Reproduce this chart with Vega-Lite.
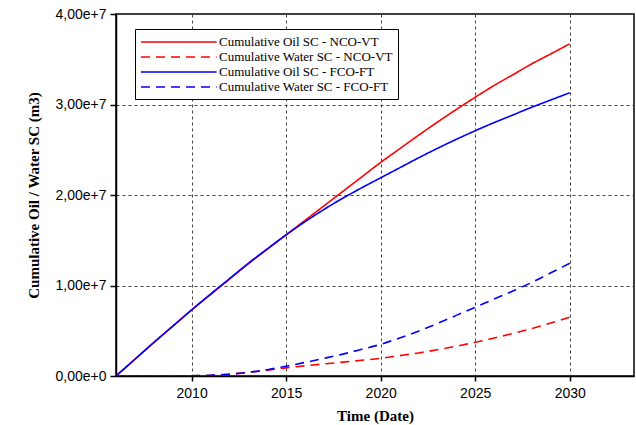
{
  "$schema": "https://vega.github.io/schema/vega-lite/v6.json",
  "autosize": "none",
  "width": 518,
  "height": 362,
  "padding": {"left": 116, "top": 14, "right": 2, "bottom": 49},
  "background": "white",
  "config": {
    "view": {"stroke": "black", "strokeWidth": 1.5},
    "axis": {
      "labelFont": "Liberation Sans",
      "labelFontSize": 14,
      "labelColor": "black",
      "titleFont": "Liberation Serif",
      "titleFontSize": 15,
      "titleFontWeight": "bold",
      "titleColor": "black",
      "domainColor": "black",
      "domainWidth": 1.5,
      "tickColor": "black",
      "tickWidth": 1.5,
      "tickSize": 6,
      "gridColor": "#444",
      "gridDash": [3, 3],
      "gridWidth": 1,
      "gridOpacity": 1
    }
  },
  "data": {
    "values": [
      {"year": 2006, "series": "Cumulative Oil SC - NCO-VT", "v": 0},
      {"year": 2007, "series": "Cumulative Oil SC - NCO-VT", "v": 1850000},
      {"year": 2008, "series": "Cumulative Oil SC - NCO-VT", "v": 3700000},
      {"year": 2009, "series": "Cumulative Oil SC - NCO-VT", "v": 5500000},
      {"year": 2010, "series": "Cumulative Oil SC - NCO-VT", "v": 7300000},
      {"year": 2011, "series": "Cumulative Oil SC - NCO-VT", "v": 9000000},
      {"year": 2012, "series": "Cumulative Oil SC - NCO-VT", "v": 10700000},
      {"year": 2013, "series": "Cumulative Oil SC - NCO-VT", "v": 12400000},
      {"year": 2014, "series": "Cumulative Oil SC - NCO-VT", "v": 14000000},
      {"year": 2015, "series": "Cumulative Oil SC - NCO-VT", "v": 15600000},
      {"year": 2016, "series": "Cumulative Oil SC - NCO-VT", "v": 17200000},
      {"year": 2017, "series": "Cumulative Oil SC - NCO-VT", "v": 18800000},
      {"year": 2018, "series": "Cumulative Oil SC - NCO-VT", "v": 20400000},
      {"year": 2019, "series": "Cumulative Oil SC - NCO-VT", "v": 22000000},
      {"year": 2020, "series": "Cumulative Oil SC - NCO-VT", "v": 23600000},
      {"year": 2021, "series": "Cumulative Oil SC - NCO-VT", "v": 25100000},
      {"year": 2022, "series": "Cumulative Oil SC - NCO-VT", "v": 26600000},
      {"year": 2023, "series": "Cumulative Oil SC - NCO-VT", "v": 28050000},
      {"year": 2024, "series": "Cumulative Oil SC - NCO-VT", "v": 29450000},
      {"year": 2025, "series": "Cumulative Oil SC - NCO-VT", "v": 30800000},
      {"year": 2026, "series": "Cumulative Oil SC - NCO-VT", "v": 32100000},
      {"year": 2027, "series": "Cumulative Oil SC - NCO-VT", "v": 33300000},
      {"year": 2028, "series": "Cumulative Oil SC - NCO-VT", "v": 34500000},
      {"year": 2029, "series": "Cumulative Oil SC - NCO-VT", "v": 35600000},
      {"year": 2030, "series": "Cumulative Oil SC - NCO-VT", "v": 36700000},

      {"year": 2006, "series": "Cumulative Water SC - NCO-VT", "v": 0},
      {"year": 2009, "series": "Cumulative Water SC - NCO-VT", "v": 0},
      {"year": 2010, "series": "Cumulative Water SC - NCO-VT", "v": 20000},
      {"year": 2011, "series": "Cumulative Water SC - NCO-VT", "v": 80000},
      {"year": 2012, "series": "Cumulative Water SC - NCO-VT", "v": 200000},
      {"year": 2013, "series": "Cumulative Water SC - NCO-VT", "v": 400000},
      {"year": 2014, "series": "Cumulative Water SC - NCO-VT", "v": 650000},
      {"year": 2015, "series": "Cumulative Water SC - NCO-VT", "v": 900000},
      {"year": 2016, "series": "Cumulative Water SC - NCO-VT", "v": 1120000},
      {"year": 2017, "series": "Cumulative Water SC - NCO-VT", "v": 1330000},
      {"year": 2018, "series": "Cumulative Water SC - NCO-VT", "v": 1530000},
      {"year": 2019, "series": "Cumulative Water SC - NCO-VT", "v": 1740000},
      {"year": 2020, "series": "Cumulative Water SC - NCO-VT", "v": 1950000},
      {"year": 2021, "series": "Cumulative Water SC - NCO-VT", "v": 2250000},
      {"year": 2022, "series": "Cumulative Water SC - NCO-VT", "v": 2550000},
      {"year": 2023, "series": "Cumulative Water SC - NCO-VT", "v": 2900000},
      {"year": 2024, "series": "Cumulative Water SC - NCO-VT", "v": 3300000},
      {"year": 2025, "series": "Cumulative Water SC - NCO-VT", "v": 3720000},
      {"year": 2026, "series": "Cumulative Water SC - NCO-VT", "v": 4200000},
      {"year": 2027, "series": "Cumulative Water SC - NCO-VT", "v": 4700000},
      {"year": 2028, "series": "Cumulative Water SC - NCO-VT", "v": 5250000},
      {"year": 2029, "series": "Cumulative Water SC - NCO-VT", "v": 5850000},
      {"year": 2030, "series": "Cumulative Water SC - NCO-VT", "v": 6500000},

      {"year": 2006, "series": "Cumulative Oil SC - FCO-FT", "v": 0},
      {"year": 2007, "series": "Cumulative Oil SC - FCO-FT", "v": 1850000},
      {"year": 2008, "series": "Cumulative Oil SC - FCO-FT", "v": 3700000},
      {"year": 2009, "series": "Cumulative Oil SC - FCO-FT", "v": 5500000},
      {"year": 2010, "series": "Cumulative Oil SC - FCO-FT", "v": 7300000},
      {"year": 2011, "series": "Cumulative Oil SC - FCO-FT", "v": 9050000},
      {"year": 2012, "series": "Cumulative Oil SC - FCO-FT", "v": 10750000},
      {"year": 2013, "series": "Cumulative Oil SC - FCO-FT", "v": 12450000},
      {"year": 2014, "series": "Cumulative Oil SC - FCO-FT", "v": 14050000},
      {"year": 2015, "series": "Cumulative Oil SC - FCO-FT", "v": 15600000},
      {"year": 2016, "series": "Cumulative Oil SC - FCO-FT", "v": 17050000},
      {"year": 2017, "series": "Cumulative Oil SC - FCO-FT", "v": 18400000},
      {"year": 2018, "series": "Cumulative Oil SC - FCO-FT", "v": 19650000},
      {"year": 2019, "series": "Cumulative Oil SC - FCO-FT", "v": 20800000},
      {"year": 2020, "series": "Cumulative Oil SC - FCO-FT", "v": 21900000},
      {"year": 2021, "series": "Cumulative Oil SC - FCO-FT", "v": 23000000},
      {"year": 2022, "series": "Cumulative Oil SC - FCO-FT", "v": 24100000},
      {"year": 2023, "series": "Cumulative Oil SC - FCO-FT", "v": 25150000},
      {"year": 2024, "series": "Cumulative Oil SC - FCO-FT", "v": 26150000},
      {"year": 2025, "series": "Cumulative Oil SC - FCO-FT", "v": 27100000},
      {"year": 2026, "series": "Cumulative Oil SC - FCO-FT", "v": 28000000},
      {"year": 2027, "series": "Cumulative Oil SC - FCO-FT", "v": 28850000},
      {"year": 2028, "series": "Cumulative Oil SC - FCO-FT", "v": 29700000},
      {"year": 2029, "series": "Cumulative Oil SC - FCO-FT", "v": 30500000},
      {"year": 2030, "series": "Cumulative Oil SC - FCO-FT", "v": 31300000},

      {"year": 2006, "series": "Cumulative Water SC - FCO-FT", "v": 0},
      {"year": 2009, "series": "Cumulative Water SC - FCO-FT", "v": 0},
      {"year": 2010, "series": "Cumulative Water SC - FCO-FT", "v": 20000},
      {"year": 2011, "series": "Cumulative Water SC - FCO-FT", "v": 80000},
      {"year": 2012, "series": "Cumulative Water SC - FCO-FT", "v": 200000},
      {"year": 2013, "series": "Cumulative Water SC - FCO-FT", "v": 400000},
      {"year": 2014, "series": "Cumulative Water SC - FCO-FT", "v": 700000},
      {"year": 2015, "series": "Cumulative Water SC - FCO-FT", "v": 1080000},
      {"year": 2016, "series": "Cumulative Water SC - FCO-FT", "v": 1500000},
      {"year": 2017, "series": "Cumulative Water SC - FCO-FT", "v": 1950000},
      {"year": 2018, "series": "Cumulative Water SC - FCO-FT", "v": 2420000},
      {"year": 2019, "series": "Cumulative Water SC - FCO-FT", "v": 2950000},
      {"year": 2020, "series": "Cumulative Water SC - FCO-FT", "v": 3500000},
      {"year": 2021, "series": "Cumulative Water SC - FCO-FT", "v": 4200000},
      {"year": 2022, "series": "Cumulative Water SC - FCO-FT", "v": 4950000},
      {"year": 2023, "series": "Cumulative Water SC - FCO-FT", "v": 5800000},
      {"year": 2024, "series": "Cumulative Water SC - FCO-FT", "v": 6700000},
      {"year": 2025, "series": "Cumulative Water SC - FCO-FT", "v": 7600000},
      {"year": 2026, "series": "Cumulative Water SC - FCO-FT", "v": 8500000},
      {"year": 2027, "series": "Cumulative Water SC - FCO-FT", "v": 9400000},
      {"year": 2028, "series": "Cumulative Water SC - FCO-FT", "v": 10350000},
      {"year": 2029, "series": "Cumulative Water SC - FCO-FT", "v": 11400000},
      {"year": 2030, "series": "Cumulative Water SC - FCO-FT", "v": 12450000}
    ]
  },
  "mark": {"type": "line", "strokeWidth": 1.6, "clip": true, "interpolate": "monotone"},
  "encoding": {
    "x": {
      "field": "year",
      "type": "quantitative",
      "scale": {"domain": [2006, 2033.4], "nice": false, "zero": false},
      "axis": {
        "title": "Time (Date)",
        "values": [2010, 2015, 2020, 2025, 2030],
        "format": "d",
        "labelPadding": 5,
        "titlePadding": 8,
        "tickSize": 5
      }
    },
    "y": {
      "field": "v",
      "type": "quantitative",
      "scale": {"domain": [0, 40000000], "nice": false},
      "axis": {
        "title": "Cumulative Oil / Water SC (m3)",
        "values": [0, 10000000, 20000000, 30000000, 40000000],
        "labelExpr": "replace(format(datum.value, '.2e'), '.', ',')",
        "labelPadding": 4,
        "titlePadding": 14
      }
    },
    "color": {
      "field": "series",
      "type": "nominal",
      "scale": {
        "domain": ["Cumulative Oil SC - NCO-VT", "Cumulative Water SC - NCO-VT", "Cumulative Oil SC - FCO-FT", "Cumulative Water SC - FCO-FT"],
        "range": ["#ff0000", "#ff0000", "#0000ff", "#0000ff"]
      },
      "legend": {
        "title": null,
        "orient": "none",
        "legendX": 19,
        "legendY": 15,
        "symbolType": "M-1,0L9.8,0",
        "symbolSize": 196,
        "symbolStrokeWidth": 1.6,
        "symbolFillColor": "transparent",
        "labelFont": "Liberation Serif",
        "labelFontSize": 13,
        "labelColor": "black",
        "labelLimit": 0,
        "strokeColor": "black",
        "fillColor": "white",
        "padding": 5,
        "rowPadding": 0,
        "labelOffset": 63
      }
    },
    "strokeDash": {
      "field": "series",
      "type": "nominal",
      "scale": {
        "domain": ["Cumulative Oil SC - NCO-VT", "Cumulative Water SC - NCO-VT", "Cumulative Oil SC - FCO-FT", "Cumulative Water SC - FCO-FT"],
        "range": [[1, 0], [9, 6], [1, 0], [9, 6]]
      },
      "legend": null
    }
  }
}
